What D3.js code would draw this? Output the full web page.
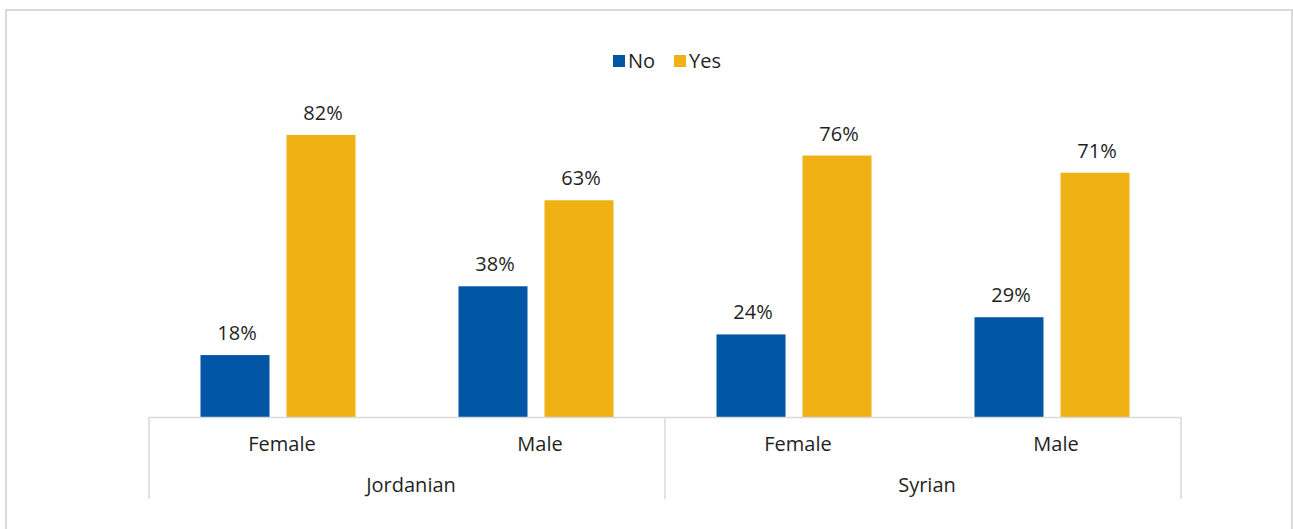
<!DOCTYPE html>
<html lang="en">
<head>
<meta charset="UTF-8">
<script src="https://cdn.jsdelivr.net/npm/d3@7"></script>
<style>
  body { margin: 0; background: #fff; }
  text { font-family: "Open Sans", sans-serif; fill: #1f1f1f; }
</style>
</head>
<body>
<svg id="chart" width="1293" height="529"></svg>
<script>
// data
var groups = ["Jordanian", "Syrian"];
var genders = ["Female", "Male"];
var series = ["No", "Yes"];
var noValues = [18, 38, 24, 29];
var yesValues = [82, 63, 76, 71];
var colors = ["#0055a5", "#f0b115"];

var svg = d3.select("#chart");

// outer frame
svg.append("rect")
    .attr("x", 6).attr("y", 10)
    .attr("width", 1286).attr("height", 540)
    .attr("fill", "none")
    .attr("stroke", "#d9d9d9")
    .attr("stroke-width", 2);

var left = 149, right = 1181, base = 417;

// one slot per group/gender pair
var cats = [];
groups.forEach(function(g) {
    genders.forEach(function(s) { cats.push(g + "|" + s); });
});

var x0 = d3.scaleBand().domain(cats).range([left, right]);
var bw = x0.bandwidth();
var x1 = d3.scaleBand().domain(series)
    .range([bw / 2 - 77.5, bw / 2 + 77.5])
    .paddingInner(17 / 86);
var y = d3.scaleLinear().domain([0, 100]).range([base, 73]);

var rows = cats.map(function(c, i) {
    return { cat: c, values: [noValues[i], yesValues[i]] };
});

var cg = svg.selectAll("g.cat")
    .data(rows)
    .enter().append("g")
    .attr("class", "cat")
    .attr("transform", function(d) { return "translate(" + x0(d.cat) + ",0)"; });

cg.selectAll("rect")
    .data(function(d) { return d.values.map(function(v, j) { return { s: series[j], v: v, j: j }; }); })
    .enter().append("rect")
    .attr("x", function(d) { return x1(d.s); })
    .attr("y", function(d) { return y(d.v); })
    .attr("width", x1.bandwidth())
    .attr("height", function(d) { return base - y(d.v); })
    .attr("fill", function(d) { return colors[d.j]; });

cg.selectAll("text.val")
    .data(function(d) { return d.values.map(function(v, j) { return { s: series[j], v: v }; }); })
    .enter().append("text")
    .attr("class", "val")
    .attr("x", function(d) { return x1(d.s) + x1.bandwidth() / 2 + 2; })
    .attr("y", function(d) { return y(d.v) - 15; })
    .attr("text-anchor", "middle")
    .style("font-size", "20px")
    .text(function(d) { return d.v + "%"; });

// category axis (two levels)
var axisColor = "#d9d9d9";
svg.append("line")
    .attr("x1", left).attr("x2", right)
    .attr("y1", base + 0.5).attr("y2", base + 0.5)
    .attr("stroke", axisColor).attr("stroke-width", 1.5);

var sepX = [left, x0(cats[2]), right];
svg.selectAll("line.sep")
    .data(sepX)
    .enter().append("line")
    .attr("class", "sep")
    .attr("x1", function(d) { return d; }).attr("x2", function(d) { return d; })
    .attr("y1", base).attr("y2", 499)
    .attr("stroke", axisColor).attr("stroke-width", 1.5);

cg.append("text")
    .attr("x", bw / 2 + 4)
    .attr("y", 451)
    .attr("text-anchor", "middle")
    .style("font-size", "20px")
    .text(function(d) { return d.cat.split("|")[1]; });

svg.selectAll("text.grp")
    .data(groups)
    .enter().append("text")
    .attr("class", "grp")
    .attr("x", function(d, i) { return (sepX[i] + sepX[i + 1]) / 2 + 4; })
    .attr("y", 492)
    .attr("text-anchor", "middle")
    .style("font-size", "20px")
    .text(function(d) { return d; });

// legend
var legX = [613, 674];
var lg = svg.selectAll("g.leg")
    .data(series)
    .enter().append("g")
    .attr("class", "leg")
    .attr("transform", function(d, i) { return "translate(" + legX[i] + ",55)"; });
lg.append("rect")
    .attr("width", 12).attr("height", 12)
    .attr("fill", function(d, i) { return colors[i]; });
lg.append("text")
    .attr("x", 15).attr("y", 12.5)
    .style("font-size", "20px")
    .text(function(d) { return d; });
</script>
</body>
</html>
